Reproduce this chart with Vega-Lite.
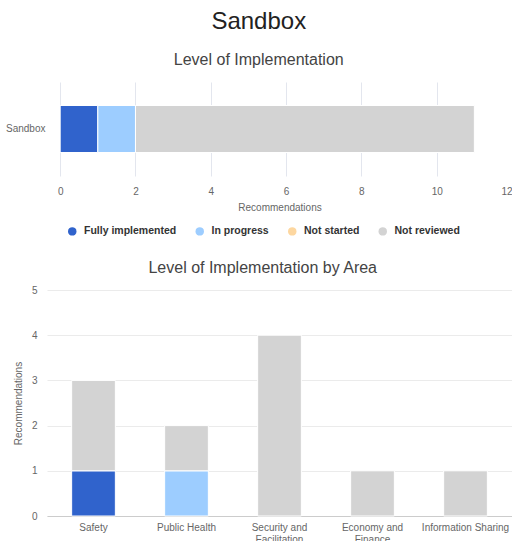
{
  "$schema": "https://vega.github.io/schema/vega-lite/v6.json",
  "padding": {"left": 5, "top": 10, "right": 0, "bottom": 0},
  "title": {"text": "Sandbox", "fontSize": 24, "fontWeight": "normal", "color": "#222", "anchor": "middle", "offset": 18},
  "datasets": {
    "overall": [
      {"Program": "Sandbox", "Status": "Fully implemented", "Count": 1},
      {"Program": "Sandbox", "Status": "In progress", "Count": 1},
      {"Program": "Sandbox", "Status": "Not reviewed", "Count": 9}
    ],
    "byArea": [
      {"Area": "Safety", "Status": "Fully implemented", "Count": 1},
      {"Area": "Safety", "Status": "Not reviewed", "Count": 2},
      {"Area": "Public Health", "Status": "In progress", "Count": 1},
      {"Area": "Public Health", "Status": "Not reviewed", "Count": 1},
      {"Area": "Security and Facilitation", "Status": "Not reviewed", "Count": 4},
      {"Area": "Economy and Finance", "Status": "Not reviewed", "Count": 1},
      {"Area": "Information Sharing", "Status": "Not reviewed", "Count": 1}
    ]
  },
  "spacing": 3,
  "resolve": {"legend": {"color": "independent"}},
  "vconcat": [
    {
      "title": {"text": "Level of Implementation", "frame": "bounds", "offset": 14},
      "data": {"name": "overall"},
      "width": 465,
      "height": 94,
      "mark": {"type": "bar", "stroke": "white", "strokeWidth": 1},
      "encoding": {
        "y": {"field": "Program", "type": "nominal", "title": null,
              "scale": {"paddingInner": 0.5, "paddingOuter": 0.25},
              "axis": {"labelPadding": 2, "grid": false}},
        "x": {"field": "Count", "type": "quantitative", "stack": "zero", "title": "Recommendations",
              "scale": {"domain": [-0.35, 12], "nice": false, "zero": false},
              "axis": {"values": [0, 2, 4, 6, 8, 10, 12], "grid": true, "gridColor": "#e3e6ee", "labelPadding": 10, "titlePadding": 6}},
        "order": {"field": "Status", "sort": "ascending"},
        "color": {"field": "Status", "type": "nominal",
                  "scale": {"domain": ["Fully implemented", "In progress", "Not started", "Not reviewed"],
                            "range": ["#3063cc", "#9dcdff", "#fdd7a0", "#d3d3d3"]},
                  "legend": {"orient": "bottom", "direction": "horizontal", "title": null, "symbolType": "circle",
                             "symbolSize": 72, "labelFontSize": 10.5, "labelFontWeight": "bold", "labelColor": "#333",
                             "labelOffset": 6.5, "columnPadding": 17.5, "symbolStrokeWidth": 0,
                             "padding": 20, "offset": -6}}
      }
    },
    {
      "title": {"text": "Level of Implementation by Area", "frame": "bounds", "offset": 9},
      "data": {"name": "byArea"},
      "width": 465,
      "height": 226,
      "mark": {"type": "bar", "stroke": "white", "strokeWidth": 1},
      "encoding": {
        "x": {"field": "Area", "type": "nominal", "sort": null, "title": null,
              "scale": {"paddingInner": 0.53, "paddingOuter": 0.265},
              "axis": {"labelAngle": 0, "labelPadding": 6, "domain": true, "domainColor": "#cccccc",
                       "labelExpr": "indexof(datum.label,' and ') > 0 ? [slice(datum.label,0,indexof(datum.label,' and ')+4), slice(datum.label,indexof(datum.label,' and ')+5)] : datum.label"}},
        "y": {"field": "Count", "type": "quantitative", "stack": "zero", "title": "Recommendations",
              "scale": {"domain": [0, 5], "nice": false},
              "axis": {"values": [0, 1, 2, 3, 4, 5], "labelPadding": 10, "titlePadding": 8}},
        "order": {"field": "Status", "sort": "ascending"},
        "color": {"field": "Status", "type": "nominal",
                  "scale": {"domain": ["Fully implemented", "In progress", "Not started", "Not reviewed"],
                            "range": ["#3063cc", "#9dcdff", "#fdd7a0", "#d3d3d3"]},
                  "legend": null}
      }
    }
  ],
  "config": {
    "view": {"stroke": null},
    "font": "Liberation Sans",
    "title": {"fontSize": 16, "fontWeight": "normal", "color": "#444"},
    "axis": {"labelColor": "#666", "titleColor": "#666", "labelFontSize": 10, "titleFontSize": 10,
             "titleFontWeight": "normal", "gridColor": "#ebebeb", "domain": false, "ticks": false,
             "labelFont": "Liberation Sans", "titleFont": "Liberation Sans"}
  }
}
